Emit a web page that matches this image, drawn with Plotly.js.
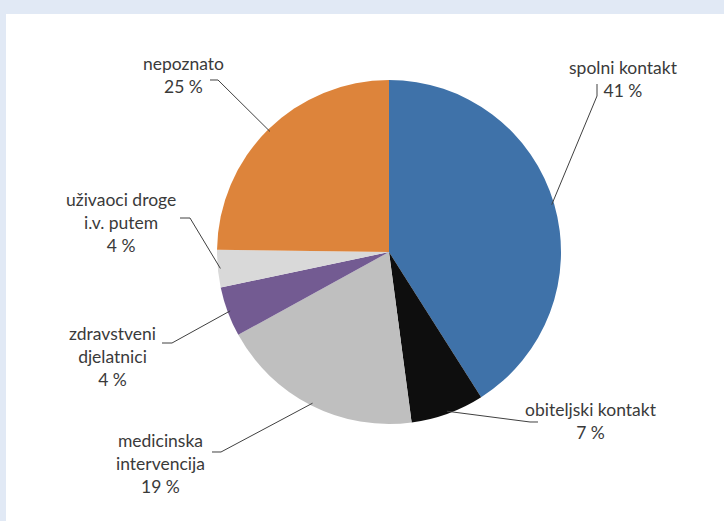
<!DOCTYPE html>
<html>
<head>
<meta charset="utf-8">
<script src="https://cdn.plot.ly/plotly-3.0.1.min.js"></script>
<style>html,body{margin:0;padding:0;background:#fff;}#chart{width:724px;height:521px;}</style>
</head>
<body>
<div id="chart"></div>
<script>
// Data
const categories = ["spolni kontakt", "obiteljski kontakt", "medicinska intervencija", "zdravstveni djelatnici", "uživaoci droge i.v. putem", "nepoznato"];
const labelLines = [["spolni kontakt"], ["obiteljski kontakt"], ["medicinska", "intervencija"], ["zdravstveni", "djelatnici"], ["uživaoci droge", "i.v. putem"], ["nepoznato"]];
const values = [41.0, 6.9, 19.1, 4.7, 3.5, 24.8];
const shownPercent = [41, 7, 19, 4, 4, 25];
const colors = ["#3F72A9", "#0E0E0E", "#BFBFBF", "#735B92", "#D9D9D9", "#DD843B"];

const W = 724, H = 521;
const cx = 389, cy = 252, R = 172;
const px = x => x / W;
const py = y => 1 - y / H;

// label layout (text centre, elbow end, elbow start)
const labelPos = [
  {tx: 623, ty: 79, elbow: [[597, 84], [597, 96]]},
  {tx: 591, ty: 421, elbow: [[538, 422], [530, 422]]},
  {tx: 160, ty: 463, elbow: [[212, 452], [221, 452]]},
  {tx: 113, ty: 356, elbow: [[162, 343], [172, 343]]},
  {tx: 121, ty: 222, elbow: [[180, 218], [190, 218]]},
  {tx: 183, ty: 75, elbow: [[210, 80], [218, 80]]}
];

const total = values.reduce((a, b) => a + b, 0);
let cum = 0;
const shapes = [
  {type: "rect", xref: "paper", yref: "paper", x0: px(6), x1: 1, y0: 0, y1: py(14), fillcolor: "#ffffff", line: {width: 0}, layer: "below"}
];
const annotations = [];
values.forEach((v, i) => {
  const mid = (cum + v / 2) / total * 2 * Math.PI;
  cum += v;
  const ex = cx + R * 0.985 * Math.sin(mid);
  const ey = cy - R * 0.985 * Math.cos(mid);
  const lp = labelPos[i];
  const pts = [[ex, ey], lp.elbow[1], lp.elbow[0]];
  const path = pts.map((p, k) => (k ? "L" : "M") + px(p[0]).toFixed(5) + "," + py(p[1]).toFixed(5)).join(" ");
  shapes.push({type: "path", xref: "paper", yref: "paper", path: path, line: {color: "#404040", width: 1}});
  annotations.push({
    xref: "paper", yref: "paper", x: px(lp.tx), y: py(lp.ty), xanchor: "center", yanchor: "middle",
    showarrow: false, align: "center",
    text: labelLines[i].concat([shownPercent[i] + " %"]).join("<br>"),
    font: {family: "Lato, 'Open Sans', sans-serif", size: 17.5, color: "#3A3A3A"}
  });
});

const trace = {
  type: "pie",
  labels: categories,
  values: values,
  sort: false,
  direction: "clockwise",
  rotation: 0,
  textinfo: "none",
  hoverinfo: "label+percent",
  marker: {colors: colors, line: {width: 0}},
  domain: {x: [px(cx - R), px(cx + R)], y: [py(cy + R), py(cy - R)]},
  showlegend: false
};

const layout = {
  width: W, height: H,
  margin: {l: 0, r: 0, t: 0, b: 0},
  paper_bgcolor: "#E1E9F5",
  shapes: shapes,
  annotations: annotations,
  showlegend: false
};

Plotly.newPlot("chart", [trace], layout, {displayModeBar: false, staticPlot: true});
</script>
</body>
</html>
